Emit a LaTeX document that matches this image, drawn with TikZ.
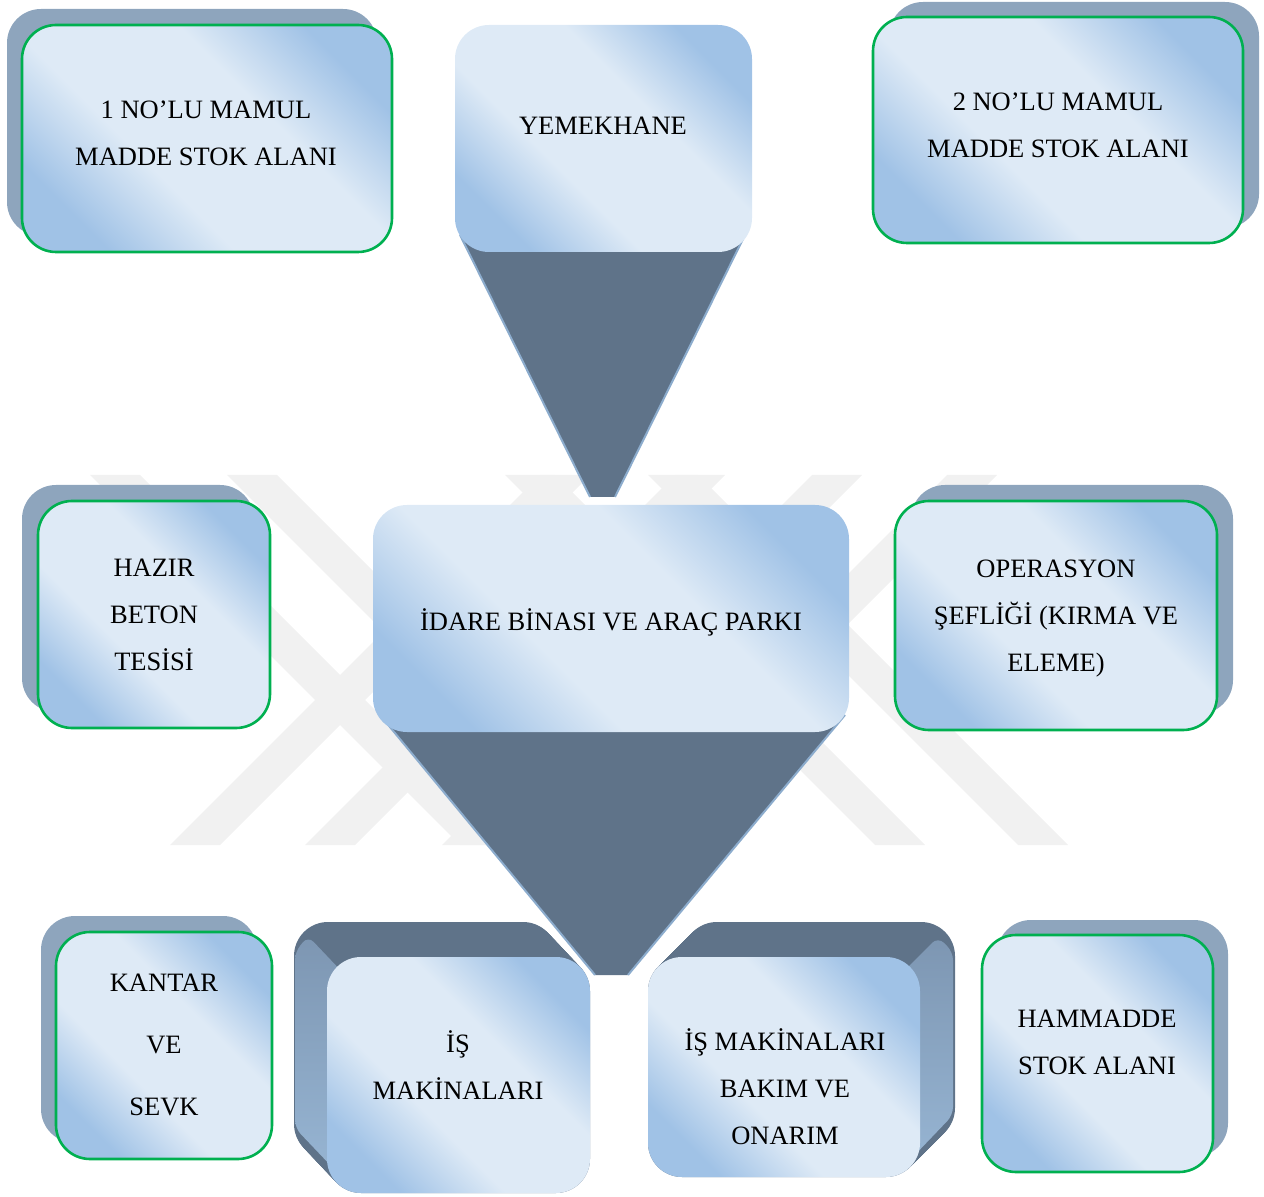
\documentclass[tikz,border=0pt]{standalone}
\usepackage{fontspec}
\setmainfont{Liberation Serif}
\definecolor{cardlight}{RGB}{222,234,246}
\definecolor{cardblue}{RGB}{160,194,230}
\definecolor{cardshadow}{RGB}{142,165,189}
\definecolor{cardgreen}{RGB}{0,176,80}
\definecolor{funneldark}{RGB}{95,115,137}
\definecolor{funneledge}{RGB}{140,172,205}
\definecolor{sidetop}{RGB}{125,150,178}
\definecolor{sidebottom}{RGB}{150,180,210}
\definecolor{markgray}{RGB}{241,241,241}

\pgfdeclareverticalshading{cardglow}{100bp}{color(0bp)=(cardblue); color(25bp)=(cardblue); color(40bp)=(cardlight); color(60bp)=(cardlight); color(75bp)=(cardblue); color(100bp)=(cardblue)}

\tikzset{
  backcard/.style={fill=cardshadow, rounded corners=17pt},
  frontcard/.style={shade, shading=cardglow, shading angle=-45, rounded corners=17pt},
  greencard/.style={frontcard, draw=cardgreen, line width=1.3pt},
  funnel/.style={fill=funneldark},
  lbl/.style={font=\fontsize{13.25}{23.5}\selectfont, align=center, text=black}
}

\begin{document}
\begin{tikzpicture}[x=0.5pt, y=-0.5pt]
    \useasboundingbox (0,0) rectangle (1264,1197);

    % faint watermark bands
    \foreach \a in {90,227,505,648}
      \fill[markgray] (\a,475) -- (\a+50,475) -- (\a+420,845) -- (\a+370,845) -- cycle;
    \foreach \b in {170,305,442,577}
      \fill[markgray] (\b,845) -- (\b+50,845) -- (\b+420,475) -- (\b+370,475) -- cycle;

    % funnels under the two top-centre cards
    \fill[funnel] (460,235) -- (745,235) -- (615,497) -- (590,497) -- cycle;
    \draw[funneledge, line width=1pt] (460,235) -- (590,497) (745,235) -- (615,497);
    \fill[funnel] (380,715) -- (845,715) -- (628,975) -- (595,975) -- cycle;
    \draw[funneledge, line width=1pt] (380,715) -- (595,975) (845,715) -- (628,975);

    % flat shadows
    \fill[backcard] (7,9) rectangle (377,236);
    \fill[backcard] (889,2) rectangle (1259,228);
    \fill[backcard] (22,485) rectangle (254,712);
    \fill[backcard] (911,485) rectangle (1233,714);
    \fill[backcard] (41,916) rectangle (257,1143);
    \fill[backcard] (997,920) rectangle (1228,1157);

    % extruded blocks
    \foreach \s in {0,...,33}
      \fill[funneldark, rounded corners=17pt] (294+\s,922+\s*35/33) rectangle (557+\s,1158+\s*35/33);
    \shade[top color=sidetop, bottom color=sidebottom, rounded corners=4pt]
      (295,952) -- (295,1128) -- (333,1168) -- (345,1168) -- (345,975) -- (308,936) -- cycle;
    \foreach \s in {0,...,35}
      \fill[funneldark, rounded corners=17pt] (683-\s,922+\s) rectangle (955-\s,1142+\s);
    \shade[top color=sidetop, bottom color=sidebottom, rounded corners=4pt]
      (953,952) -- (953,1115) -- (910,1160) -- (900,1160) -- (900,975) -- (938,937) -- cycle;

    % front cards
    \path[greencard] (22,25) rectangle (392,252);
    \path[frontcard] (455,25) rectangle (752,252);
    \path[greencard] (873,17) rectangle (1243,243);
    \path[greencard] (38,501) rectangle (270,728);
    \path[frontcard] (373,505) rectangle (849,732);
    \path[greencard] (895,501) rectangle (1217,730);
    \path[greencard] (56,932) rectangle (272,1159);
    \path[frontcard] (327,957) rectangle (590,1193);
    \path[frontcard] (648,957) rectangle (920,1177);
    \path[greencard] (982,935) rectangle (1213,1172);

    % labels
    \node[lbl] (mamulA) at (206,133) {1 NO’LU MAMUL\\MADDE STOK ALANI};
    \node[lbl] (yemek) at (603,126) {YEMEKHANE};
    \node[lbl] (mamulB) at (1058,125) {2 NO’LU MAMUL\\MADDE STOK ALANI};
    \node[lbl] (beton) at (154,615) {HAZIR\\BETON\\TESİSİ};
    \node[lbl] (idare) at (611,622) {İDARE BİNASI VE ARAÇ PARKI};
    \node[lbl] (operasyon) at (1056,619) {OPERASYON\\ŞEFLİĞİ (KIRMA VE\\ELEME)};
    \node[lbl, font=\fontsize{13.25}{31}\selectfont] (kantar) at (164,1045) {KANTAR\\VE\\SEVK};
    \node[lbl] (makine) at (458,1065) {İŞ\\MAKİNALARI};
    \node[lbl] (bakim) at (785,1087) {İŞ MAKİNALARI\\BAKIM VE\\ONARIM};
    \node[lbl] (hammadde) at (1097,1042) {HAMMADDE\\STOK ALANI};

\end{tikzpicture}
\end{document}
